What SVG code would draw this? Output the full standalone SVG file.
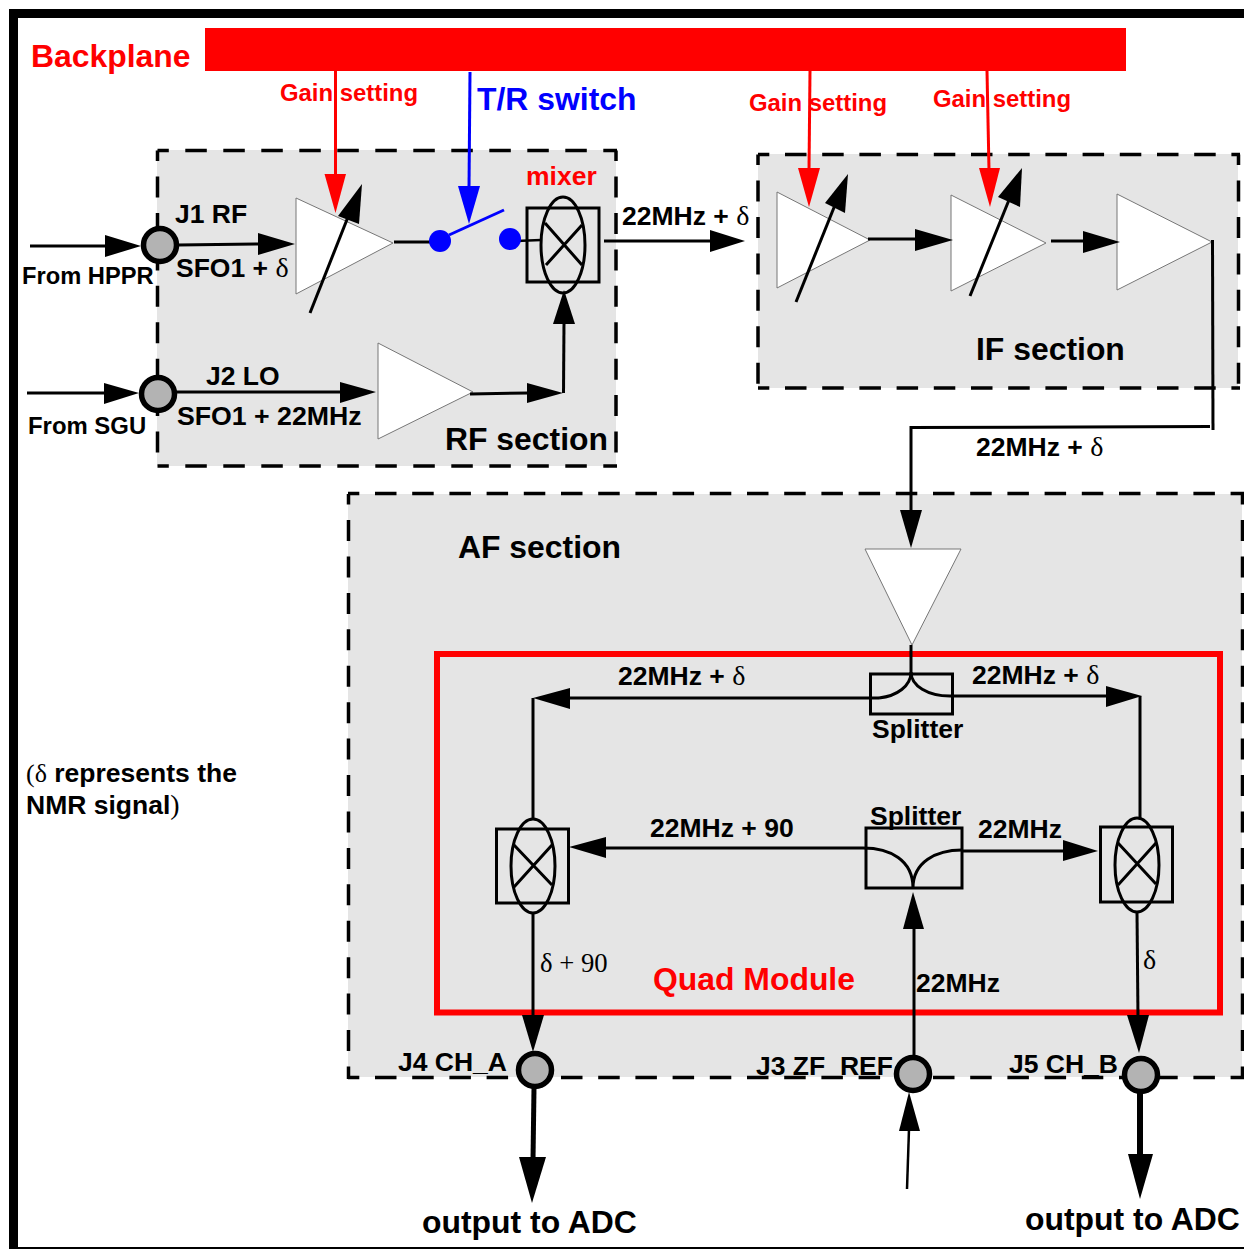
<svg xmlns="http://www.w3.org/2000/svg" width="1244" height="1249" viewBox="0 0 1244 1249">
<style>
text{font-family:"Liberation Sans",Arial,sans-serif;font-weight:700;fill:#000}
.d{font-family:"Liberation Serif","Times New Roman",serif;font-weight:400;font-size:28px}
.s24{font-size:23.900px}.s26{font-size:26.500px}.s32{font-size:31.900px}
.red{fill:#f00}.blue{fill:#00f}
.sf{fill:#e5e5e5}
.h,.v{stroke:#000;stroke-width:3.500;fill:none}
.h{stroke-dasharray:21.500 15.700;stroke-dashoffset:10.200}
.v{stroke-dasharray:21 15.430;stroke-dashoffset:10.400}
.amp{fill:#fff;stroke:#777;stroke-width:1}
.box{fill:none;stroke:#000;stroke-width:3}
.thin{fill:none;stroke:#000;stroke-width:3}
.port{fill:#b3b3b3;stroke:#000;stroke-width:5.500}
.dot{fill:#00f}
#connectors line,#connectors path{fill:none;stroke:#000;stroke-width:3}
#connectors polygon{fill:#000}
#connectors .r{stroke:#f00}
#connectors polygon.r{fill:#f00;stroke:none}
#connectors .b{stroke:#00f}
#connectors polygon.b{fill:#00f;stroke:none}
</style>
<rect width="1244" height="1249" fill="#fff"/>
<g id="frame"><rect x="9" y="9" width="1235" height="9"/><rect x="9" y="9" width="9" height="1240"/><rect x="9" y="1247" width="1235" height="2"/></g>
<g id="rf-section"><rect class="sf" x="157" y="150" width="459" height="316"/><path class="h" style="stroke-dasharray:21.500 16.500" d="M157.500 150.500H617M157.500 466H617"/><path class="v" d="M157.500 150.500V467.500M616 150.500V467.500"/><text class="s32" x="445" y="450">RF section</text></g>
<g id="if-section"><rect class="sf" x="758" y="154" width="480" height="234"/><path class="h" d="M758 154.500H1240M758 388H1240"/><path class="v" d="M758 154.500V389.500M1238.500 154.500V389.500"/><text class="s32" x="976" y="360">IF section</text></g>
<g id="af-section"><rect class="sf" x="348" y="494" width="894" height="583"/><path class="h" d="M348 493.500H1244M348 1077.500H1244"/><path class="v" d="M348.500 494V1079M1242.500 494V1079"/><text class="s32" x="458" y="558">AF section</text></g>
<g id="quad-module"><rect x="437" y="654" width="783" height="358.500" fill="none" stroke="#f00" stroke-width="6"/><text class="s32 red" x="653" y="990">Quad Module</text></g>
<g id="backplane"><rect x="205" y="28" width="921" height="43" fill="#f00"/><text class="s32 red" x="31" y="67">Backplane</text></g>
<g id="amp-rf1"><polygon class="amp" points="296,198 296,294 393,243"/></g>
<g id="amp-lo"><polygon class="amp" points="378,343 378,439 473,392"/></g>
<g id="amp-if1"><polygon class="amp" points="777,192 777,288 870,240"/></g>
<g id="amp-if2"><polygon class="amp" points="951,195 951,291 1046,243"/></g>
<g id="amp-if3"><polygon class="amp" points="1117,194 1117,290 1212,242"/></g>
<g id="amp-af"><polygon class="amp" points="865,549 961,549 912,645"/></g>
<g id="mixer-rf"><rect class="box" x="527" y="208" width="72" height="74"/><ellipse class="thin" cx="563" cy="245" rx="22" ry="48"/><path class="thin" d="M545 223L582 265M582 225L546 265"/><text class="s26 red" x="526" y="185">mixer</text></g>
<g id="mixer-a"><rect class="box" x="496.500" y="829" width="72" height="74"/><ellipse class="thin" cx="533" cy="866" rx="22" ry="47"/><path class="thin" d="M514 845L552 885M552 845L514 887"/></g>
<g id="mixer-b"><rect class="box" x="1100.500" y="827" width="72" height="75"/><ellipse class="thin" cx="1137" cy="865" rx="22" ry="47"/><path class="thin" d="M1118 843L1156 884M1156 843L1118 885"/></g>
<g id="splitter-top"><rect class="box" x="870.500" y="674" width="82" height="40"/><path class="thin" d="M879 698C897 696 911 686 911 672C911 686 928 696 950 696"/><text class="s26" x="872" y="738">Splitter</text></g>
<g id="splitter-low"><rect class="box" x="866" y="828" width="96" height="60"/><path class="thin" d="M863 848C890 848 913 860 913 888C913 862 936 850 962 850"/><text class="s26" x="870" y="825">Splitter</text></g>
<g id="connectors">
<line class="r" x1="335.500" y1="71" x2="335.500" y2="176"/><polygon class="r" points="324.500,174 346,174 335.500,213"/>
<line class="b" x1="470" y1="72" x2="469" y2="188"/><polygon class="b" points="458,186 480,186 469,224"/>
<line class="r" x1="810" y1="71" x2="809" y2="170"/><polygon class="r" points="798,168 820,168 809,207"/>
<line class="r" x1="987" y1="71" x2="989" y2="170"/><polygon class="r" points="979,168 1000,168 990,207"/>
<line x1="310" y1="313" x2="348" y2="217"/><polygon points="362,184 338,216 359,224"/>
<line x1="796" y1="302" x2="835" y2="205"/><polygon points="848,174 825,203 845,213"/>
<line x1="970" y1="296" x2="1009" y2="200"/><polygon points="1022,168 998,197 1020,207"/>
<line x1="30" y1="246" x2="106" y2="246"/><polygon points="105,235 105,257 141,246"/>
<line x1="178" y1="245" x2="260" y2="244"/><polygon points="258,233 258,255 295,244"/>
<line x1="27" y1="393" x2="106" y2="393"/><polygon points="104,383 104,404 139,393"/>
<line x1="176" y1="392" x2="342" y2="392"/><polygon points="340,382 340,403 376,392"/>
<line x1="470" y1="394" x2="529" y2="393"/><polygon points="527,383 527,403 563,393"/>
<line x1="563.500" y1="393" x2="564" y2="322"/><polygon points="564,290 553,324 575,324"/>
<line x1="394" y1="242" x2="430" y2="242"/>
<line class="b" x1="449" y1="235" x2="504" y2="210"/>
<line x1="516" y1="241" x2="541" y2="240" style="stroke-width:2.500"/>
<line x1="604" y1="241" x2="712" y2="241"/><polygon points="710,230 710,252 745,241"/>
<line x1="868" y1="239" x2="917" y2="239"/><polygon points="915,229 915,251 953,240"/>
<line x1="1051" y1="241" x2="1085" y2="241"/><polygon points="1083,231 1083,253 1120,242"/>
<line x1="1212.500" y1="240" x2="1213" y2="430"/>
<path d="M1210 426.500L911 427.500V512"/><polygon points="900,510 922,510 911,548"/>
<line x1="911" y1="645" x2="911" y2="674"/>
<path d="M879 698H568"/><polygon points="570,688 570,709 533,698"/>
<line x1="533" y1="698" x2="533" y2="820"/>
<path d="M950 696H1108"/><polygon points="1106,686 1106,707 1142,696"/>
<line x1="1140" y1="696" x2="1140" y2="818"/>
<path d="M863 848H604"/><polygon points="606,837 606,858 569,847"/>
<path d="M962 851H1065"/><polygon points="1063,840 1063,861 1098,851"/>
<line x1="914" y1="1058" x2="914" y2="927"/><polygon points="913,892 903,929 924,929"/>
<line x1="533" y1="913" x2="533" y2="1018"/><polygon points="522,1015 544,1015 533,1052"/>
<line x1="1137" y1="912" x2="1138" y2="1018"/><polygon points="1127,1015 1149,1015 1139,1053"/>
<line x1="534" y1="1088" x2="533" y2="1160" style="stroke-width:5"/><polygon points="519,1157 546,1157 532,1203"/>
<line x1="1140" y1="1092" x2="1140" y2="1157" style="stroke-width:6"/><polygon points="1128,1154 1153,1154 1140,1199"/>
<line x1="907" y1="1189" x2="909" y2="1129" style="stroke-width:2.500"/><polygon points="909,1092 899,1131 920,1131"/>
</g>
<g id="switch"><circle class="dot" cx="440" cy="241" r="11"/><circle class="dot" cx="510" cy="239" r="11"/></g>
<g id="port-j1"><circle class="port" cx="160" cy="245" r="16.500"/><text class="s26" x="175" y="223">J1 RF</text></g>
<g id="port-j2"><circle class="port" cx="158" cy="394" r="16.500"/><text class="s26" x="206" y="385">J2 LO</text></g>
<g id="port-j4"><circle class="port" cx="535" cy="1070" r="16.500"/><text class="s26" x="398" y="1071">J4 CH_A</text></g>
<g id="port-j3"><circle class="port" cx="913" cy="1074" r="16.500"/><text class="s26" x="756" y="1075">J3 ZF_REF</text></g>
<g id="port-j5"><circle class="port" cx="1141" cy="1075" r="16.500"/><text class="s26" x="1009" y="1073">J5 CH_B</text></g>
<g id="labels">
<text class="s24 red" x="280" y="101">Gain setting</text>
<text class="s24 red" x="749" y="111">Gain setting</text>
<text class="s24 red" x="933" y="107">Gain setting</text>
<text class="s32 blue" x="477" y="109.500">T/R switch</text>
<text class="s24" style="font-size:23.700px" x="22" y="284">From HPPR</text>
<text class="s24" x="28" y="434">From SGU</text>
<text class="s26" x="176" y="277">SFO1 + <tspan class="d">δ</tspan></text>
<text class="s26" style="font-size:26.700px" x="177" y="425">SFO1 + 22MHz</text>
<text class="s26" x="622" y="225">22MHz + <tspan class="d">δ</tspan></text>
<text class="s26" x="976" y="456">22MHz + <tspan class="d">δ</tspan></text>
<text class="s26" x="618" y="685">22MHz + <tspan class="d">δ</tspan></text>
<text class="s26" x="972" y="684">22MHz + <tspan class="d">δ</tspan></text>
<text class="s26" x="650" y="837">22MHz + 90</text>
<text class="s26" x="978" y="838">22MHz</text>
<text class="s26" x="916" y="992">22MHz</text>
<text class="d" style="font-size:26.700px" x="540" y="972">δ + 90</text>
<text class="d" x="1143" y="969">δ</text>
<text class="s26" x="26" y="782"><tspan class="d" style="font-size:26px">(δ</tspan> represents the</text>
<text class="s26" x="26" y="814">NMR signal<tspan class="d">)</tspan></text>
<text class="s32" x="422" y="1233">output to ADC</text>
<text class="s32" x="1025" y="1230">output to ADC</text>
</g>
</svg>
